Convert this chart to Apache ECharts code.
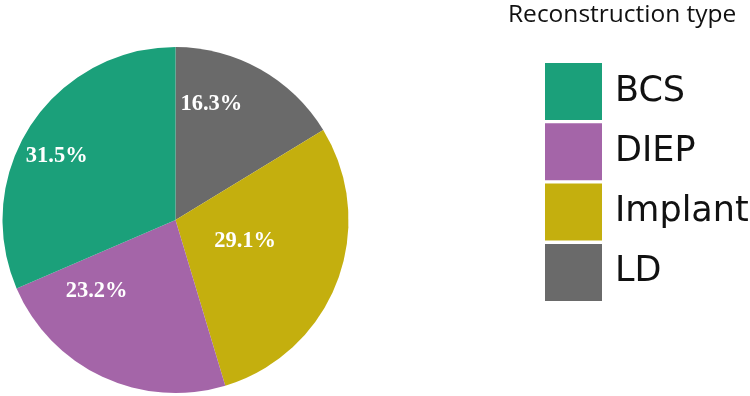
<!DOCTYPE html>
<html>
<head>
<meta charset="utf-8">
<script src="https://cdn.jsdelivr.net/npm/echarts@6/dist/echarts.min.js"></script>
<style>html,body{margin:0;padding:0;background:#fff;}#c{width:750px;height:396px;}</style>
</head>
<body>
<div id="c"></div>
<script>
// Data (clockwise from 12 o'clock)
var categories = ['LD', 'Implant', 'DIEP', 'BCS'];
var values = [16.3, 29.1, 23.2, 31.5];
var legendOrder = ['BCS', 'DIEP', 'Implant', 'LD'];
var colors = {LD: '#6a6a6a', Implant: '#c4af0e', DIEP: '#a465a8', BCS: '#1ba07a'};
var labelOffsets = {LD: [-8, -38], Implant: [-14, -11], DIEP: [-41, -10], BCS: [-44, -15]};

var chart = echarts.init(document.getElementById('c'), null, {renderer: 'canvas'});
var data = categories.map(function (c, i) {
  return {
    name: c,
    value: values[i],
    itemStyle: {color: colors[c]},
    label: {offset: labelOffsets[c]}
  };
});
chart.setOption({
  animation: false,
  title: {
    text: 'Reconstruction type',
    left: 503, top: -2,
    textStyle: {fontFamily: 'Open Sans', fontSize: 24.5, fontWeight: 'normal', color: '#111'}
  },
  legend: {
    data: legendOrder,
    orient: 'vertical',
    left: 545, top: 63,
    itemWidth: 57, itemHeight: 57, itemGap: 3.3,
    icon: 'rect',
    padding: 0,
    textStyle: {fontFamily: 'DejaVu Sans', fontSize: 35, color: '#111', padding: [0, 0, 0, 8], lineHeight: 40},
    selectedMode: false
  },
  series: [{
    type: 'pie',
    center: [175.5, 220],
    radius: 173,
    startAngle: 90,
    clockwise: true,
    data: data,
    label: {
      show: true,
      position: 'inside',
      formatter: function (p) { return p.value.toFixed(1) + '%'; },
      fontFamily: 'Liberation Serif',
      fontWeight: 'bold',
      fontSize: 22.5,
      color: '#fff'
    },
    labelLine: {show: false},
    emphasis: {disabled: true},
    itemStyle: {borderWidth: 0}
  }]
});
</script>
</body>
</html>
